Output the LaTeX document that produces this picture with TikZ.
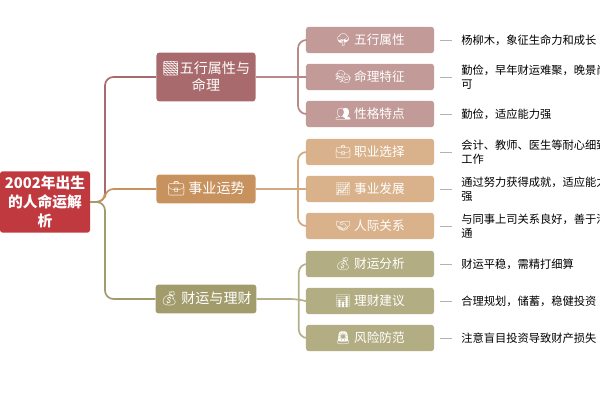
\documentclass[tikz,border=0pt]{standalone}
\usepackage{fontspec}
\setmainfont{Noto Sans CJK SC}
\newfontfamily\emo{Noto Emoji}
\XeTeXlinebreaklocale "zh"
\XeTeXlinebreakskip=0pt plus 1pt
\usetikzlibrary{positioning}
\definecolor{rootred}{HTML}{C0393F}
\definecolor{wuxing}{HTML}{A86A6C}
\definecolor{wuxingleaf}{HTML}{C29A98}
\definecolor{shiye}{HTML}{C8925E}
\definecolor{shiyeleaf}{HTML}{D9B28C}
\definecolor{caiyun}{HTML}{A29C6C}
\definecolor{caiyunleaf}{HTML}{B3AD84}

\begin{document}
\begin{tikzpicture}[x=0.025cm, y=-0.025cm,
  branchbox/.style={rounded corners=2pt, text=white, minimum width=2.475cm, minimum height=0.72cm, font=\fontsize{10}{12}\selectfont, align=center},
  leafbox/.style={rounded corners=2pt, text=white, minimum width=3.2cm, minimum height=0.66cm, font=\fontsize{9}{11}\selectfont},
  desc/.style={anchor=west, text width=104pt, inner sep=0pt, font=\fontsize{8}{10}\selectfont, align=left},
  link/.style={line width=1.2pt, rounded corners=6pt},
  tick/.style={gray!60, line width=0.6pt}]
  \useasboundingbox (0,0) rectangle (600,400);

  % root
  \node[fill=rootred, text=white, rounded corners=2pt, minimum width=2.25cm, minimum height=1.22cm,
        font=\fontsize{10.5}{13.5}\selectfont\bfseries, align=center] (root) at (45,202) {2002年出生\\的人命运解\\析};

  % branches
  \node[branchbox, fill=wuxing, minimum height=1.22cm] (b1) at (206,77) {{\emo 🟫}五行属性与\\命理};
  \node[branchbox, fill=shiye] (b2) at (206,189) {{\emo 💼} 事业运势};
  \node[branchbox, fill=caiyun] (b3) at (206,299) {{\emo 💰} 财运与理财};

  \draw[link, wuxing] (root.east) -- (105,202) |- (b1.west);
  \draw[link, shiye] (root.east) -- (105,202) |- (b2.west);
  \draw[link, caiyun] (root.east) -- (105,202) |- (b3.west);

  % leaves
  \foreach \name/\yy/\col/\icon/\txt/\note in {
      l1/40/wuxingleaf/🌳/五行属性/{杨柳木，象征生命力和成长},
      l2/77/wuxingleaf/🎭/命理特征/{勤俭，早年财运难聚，晚景尚可},
      l3/114/wuxingleaf/👥/性格特点/{勤俭，适应能力强},
      l4/152/shiyeleaf/💼/职业选择/{会计、教师、医生等耐心细致工作},
      l5/189/shiyeleaf/📈/事业发展/{通过努力获得成就，适应能力强},
      l6/226/shiyeleaf/🤝/人际关系/{与同事上司关系良好，善于沟通},
      l7/264/caiyunleaf/💰/财运分析/{财运平稳，需精打细算},
      l8/301/caiyunleaf/📊/理财建议/{合理规划，储蓄，稳健投资},
      l9/338/caiyunleaf/🚨/风险防范/{注意盲目投资导致财产损失}} {
    \node[leafbox, fill=\col] (\name) at (370,\yy) {{\emo\icon} \txt};
    \coordinate (\name t) at ([xshift=4]\name.east);
    \node[desc] (\name d) at ([xshift=19]\name.east) {\note};
    \draw[tick] (\name t) -- ++(12,0);
  }

  % brackets
  \foreach \br/\a/\b/\c/\col in {b1/l1/l2/l3/wuxing, b2/l4/l5/l6/shiye, b3/l7/l8/l9/caiyun} {
    \coordinate (\br m) at ([xshift=30]\br.east);
    \draw[link, \col!80] (\br.east) -- (\br m) -- (\b.west);
    \draw[link, \col!80] (\br m) |- (\a.west);
    \draw[link, \col!80] (\br m) |- (\c.west);
  }
\end{tikzpicture}
\end{document}
